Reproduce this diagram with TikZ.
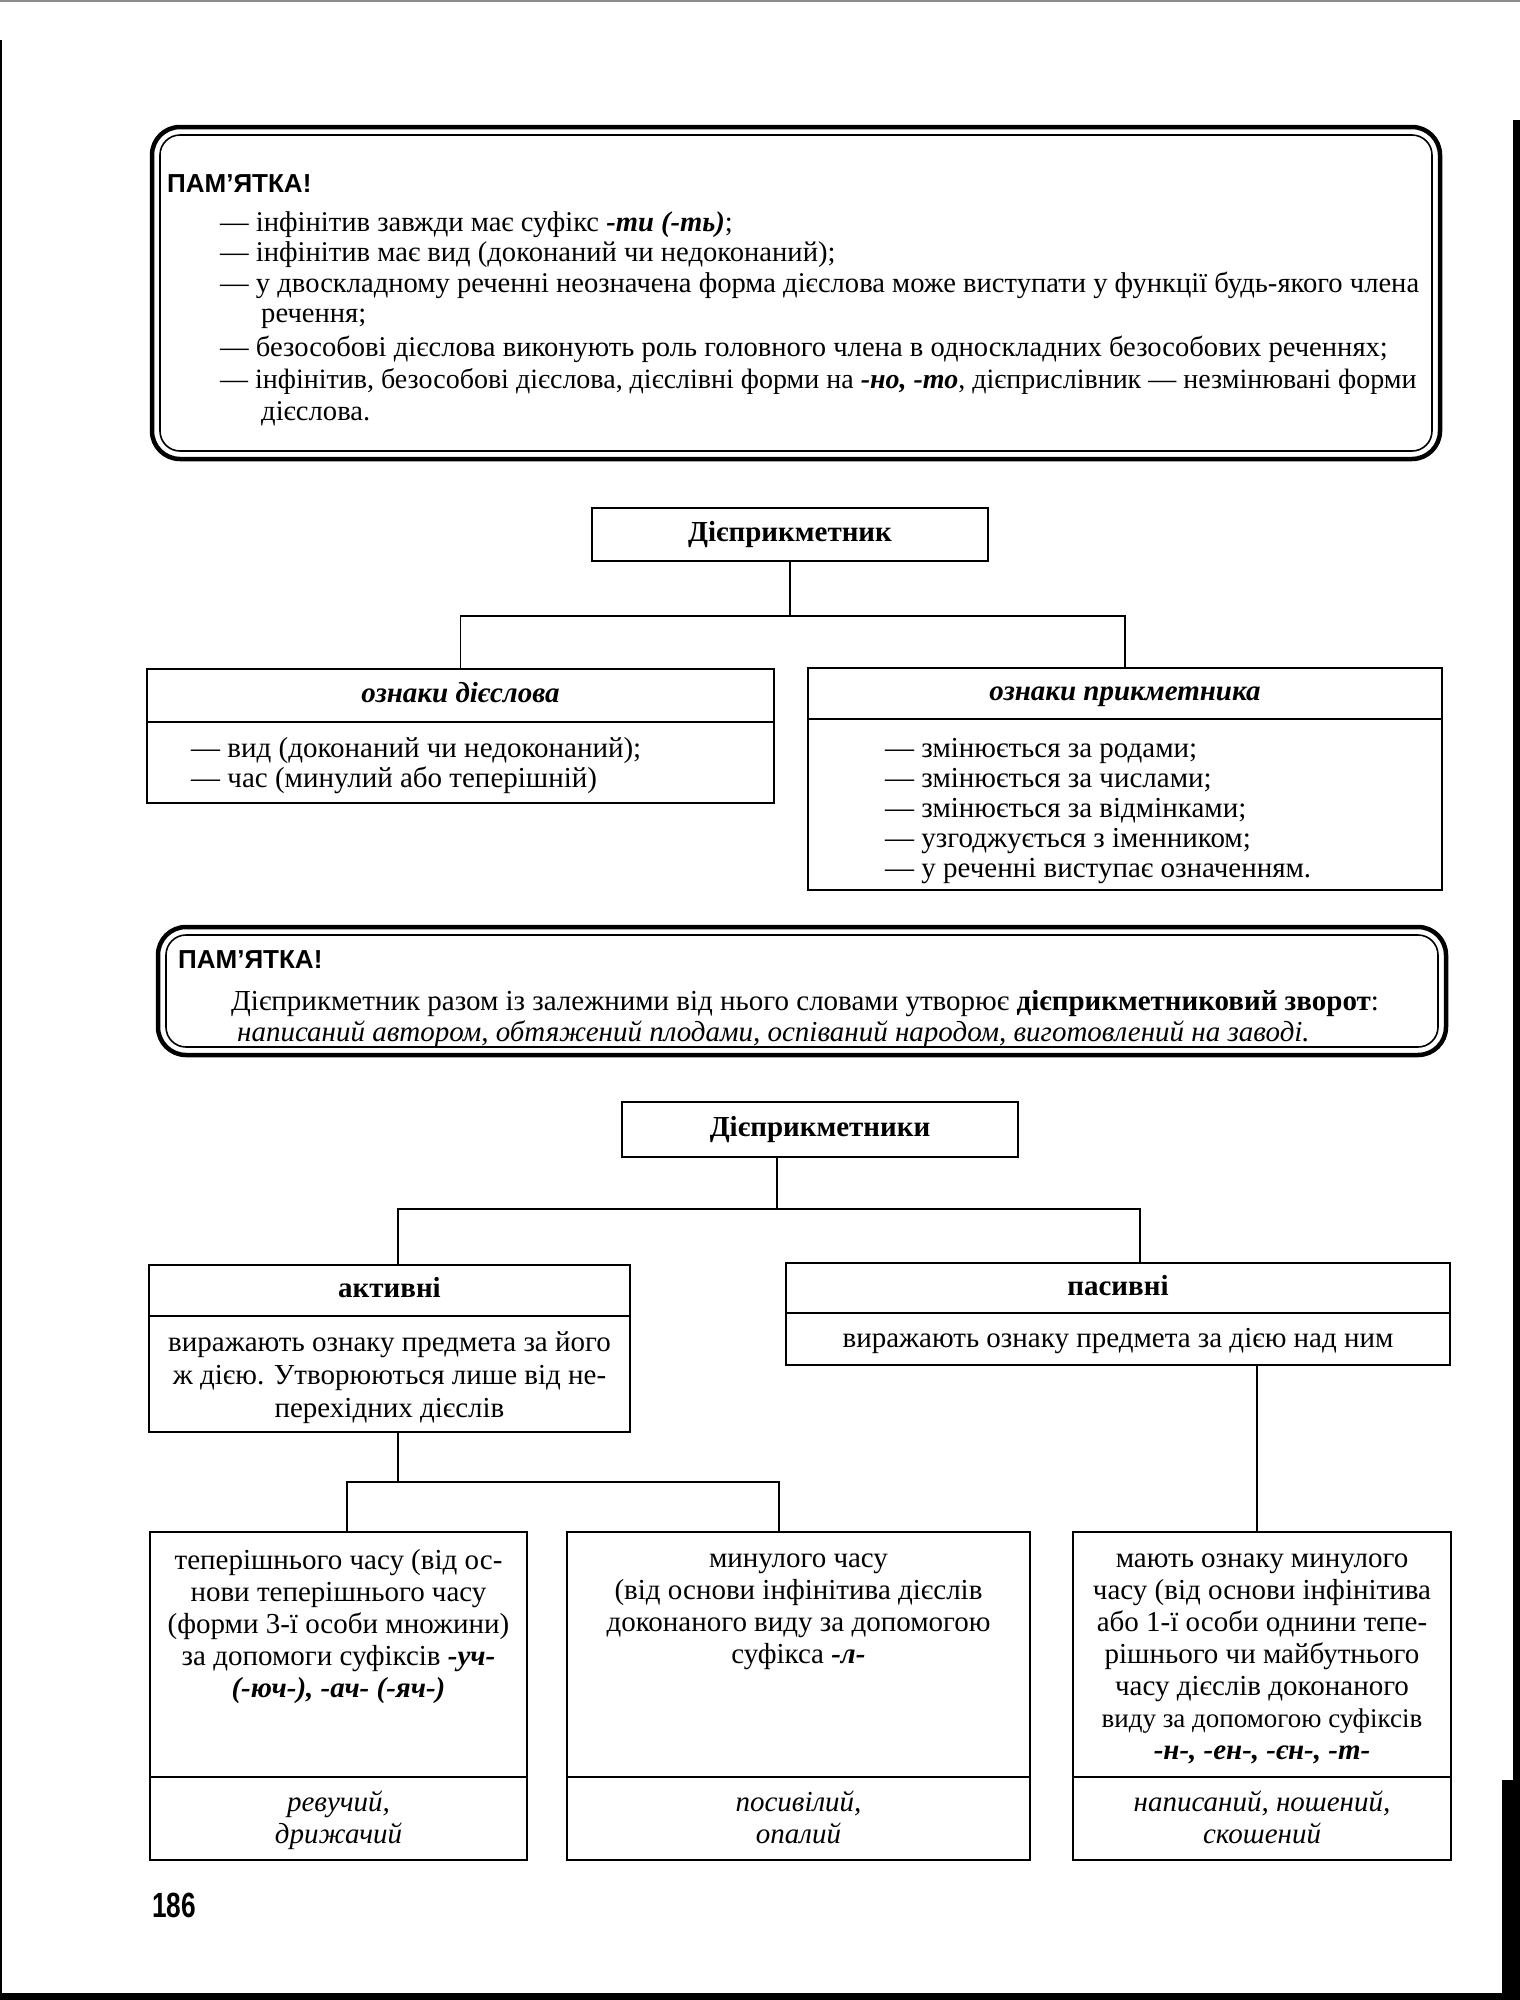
\documentclass[tikz,border=0pt]{standalone}
\usepackage{fontspec}
\setmainfont{Liberation Serif}
\newfontfamily\memofont{Liberation Sans}
\newfontfamily\pagefont[FakeStretch=0.75]{Liberation Sans}
\usetikzlibrary{positioning,calc}
\newcommand\bisuf[1]{\textbf{\textit{#1}}}
\tikzset{
  every node/.style={font=\fontsize{29}{33}\selectfont,inner sep=0pt},
  cell/.style 2 args={draw,line width=2.2pt,outer sep=0pt,minimum width=#1,minimum height=#2},
  headcell/.style 2 args={cell={#1}{#2},text height=20pt,text depth=6pt,font=\fontsize{29}{33}\selectfont\bfseries},
  headital/.style 2 args={cell={#1}{#2},text height=20pt,text depth=6pt,font=\fontsize{29}{33}\selectfont\bfseries\itshape},
  link/.style={draw,line width=1.6pt},
  memoframe/.style={draw,line width=4.5pt,rounded corners=28pt},
  memoinner/.style={draw,line width=1.6pt,rounded corners=20pt},
  memohead/.style={anchor=base west,font=\memofont\bfseries\fontsize{26}{30}\selectfont},
  memoline/.style={anchor=base west,font=\fontsize{28.6}{32}\selectfont},
  txt/.style={anchor=base west},
  ctxt/.style={anchor=base},
  exmp/.style={anchor=base,font=\fontsize{29}{33}\selectfont\itshape}}
\begin{document}
\begin{tikzpicture}[x=1pt,y=-1pt]
\useasboundingbox (0,0) rectangle (1520,2000);
% edges of the scanned page
\fill (1513,120) rectangle (1520,2000);
\fill (1502,1780) rectangle (1520,2000);
\fill (0,1993) rectangle (1520,2000);
\fill (0,40) rectangle (2,1993);
\draw[black!45,line width=1.5pt] (0,1) -- (1520,1);

% first memo
\draw[memoframe] (152,127) rectangle (1440,459);
\draw[memoinner] (160,135) rectangle (1432,451);
\node[memohead] (memo1) at (167,192) {ПАМ’ЯТКА!};
\foreach \x/\y/\linetext [count=\i] in {
  220/231/{— інфінітив завжди має суфікс \bisuf{-ти (-ть)};},
  220/261/{— інфінітив має вид (доконаний чи недоконаний);},
  220/292/{— у двоскладному реченні неозначена форма дієслова може виступати у функції будь-якого члена},
  261/322/{речення;},
  220/356/{— безособові дієслова виконують роль головного члена в односкладних безособових реченнях;},
  220/388/{\fontsize{28}{32}\selectfont — інфінітив, безособові дієслова, дієслівні форми на \bisuf{-но, -то}, дієприслівник — незмінювані форми},
  261/420/{дієслова.}}
  \node[memoline] (memo1-\i) at (\x,\y) {\linetext};

% first tree
\node[headcell={396}{53}] (dpk) at (790,534.5) {Дієприкметник};
\node[headital={627}{53}] (verbt) at (460.5,695.5) {ознаки дієслова};
\node[cell={627}{81},below=0pt of verbt] (verbb) {};
\node[headital={634}{51}] (adjt) at (1125,693.5) {ознаки прикметника};
\node[cell={634}{171},below=0pt of adjt] (adjb) {};
\draw[link] (dpk.south) -- ++(0,55) coordinate (fork1);
\draw[link] (verbt.north) |- (fork1) -| (adjt.north);
\foreach \linetext [count=\i] in {{— вид (доконаний чи недоконаний);},{— час (минулий або теперішній)}}
  \node[txt] (verb-\i) at (191,{727+30*\i}) {\linetext};
\foreach \linetext [count=\i] in {{— змінюється за родами;},{— змінюється за числами;},
  {— змінюється за відмінками;},{— узгоджується з іменником;},{— у реченні виступає означенням.}}
  \node[txt] (adj-\i) at (885,{727+30*\i}) {\linetext};

% second memo
\draw[memoframe] (158,927) rectangle (1446,1055);
\draw[memoinner] (166,935) rectangle (1438,1047);
\node[memohead] (memo2) at (178,968) {ПАМ’ЯТКА!};
\node[txt] (memo2-1) at (231,1010) {Дієприкметник разом із залежними від нього словами утворює \textbf{дієприкметниковий зворот}:};
\node[txt,font=\fontsize{29}{33}\selectfont\itshape] (memo2-2) at (237,1041) {написаний автором, обтяжений плодами, оспіваний народом, виготовлений на заводі.};

% second tree
\node[headcell={396}{55}] (dpks) at (820,1129.5) {Дієприкметники};
\node[headcell={481}{51}] (act) at (389.5,1290.5) {активні};
\node[cell={481}{116},below=0pt of act] (actb) {};
\node[headcell={664}{50}] (pas) at (1118,1288) {пасивні};
\node[cell={664}{52},below=0pt of pas] (pasb) {};
\coordinate (fork2) at (777,1209);
\draw[link] (fork2 |- dpks.south) -- (fork2);
\draw[link] ([xshift=8.5pt]act.north) |- (fork2) -| ([xshift=22pt]pas.north);
\foreach \linetext [count=\i] in {{виражають ознаку предмета за його},{ж дією. Утворюються лише від не-},{перехідних дієслів}}
  \node[ctxt] (act-\i) at (389.5,{1318+33*\i}) {\linetext};
\node[ctxt] (pas-1) at (1118,1347) {виражають ознаку предмета за дією над ним};

% lowest row
\node[cell={377}{245}] (pres) at (338.5,1654.5) {};
\node[cell={377}{83},below=0pt of pres] (presx) {};
\node[cell={463}{245}] (past) at (798.5,1654.5) {};
\node[cell={463}{83},below=0pt of past] (pastx) {};
\node[cell={378}{245}] (passv) at (1262,1654.5) {};
\node[cell={378}{83},below=0pt of passv] (passvx) {};
\draw[link] ([xshift=8.5pt]actb.south) -- ++(0,50) coordinate (fork3);
\draw[link] ([xshift=8.5pt]pres.north) |- (fork3) -| ([xshift=-19.5pt]past.north);
\coordinate (pdrop) at ([xshift=139pt]pasb.south);
\draw[link] (pdrop) -- (pdrop |- passv.north);
\foreach \linetext [count=\i] in {{теперішнього часу (від ос-},{нови теперішнього часу},
  {(форми 3-ї особи множини)},{за допомоги суфіксів \bisuf{-уч-}},{\bisuf{(-юч-), -ач- (-яч-)}}}
  \node[ctxt] (pres-\i) at (338.5,{1537+32*\i}) {\linetext};
\foreach \linetext [count=\i] in {{минулого часу},{(від основи інфінітива дієслів},
  {доконаного виду за допомогою},{суфікса \bisuf{-л-}}}
  \node[ctxt] (past-\i) at (798.5,{1535+32*\i}) {\linetext};
\foreach \linetext [count=\i] in {{мають ознаку минулого},{часу (від основи інфінітива},
  {або 1-ї особи однини тепе-},{рішнього чи майбутнього},{часу дієслів доконаного},
  {\fontsize{27}{31}\selectfont виду за допомогою суфіксів},{\bisuf{-н-, -ен-, -єн-, -т-}}}
  \node[ctxt] (passv-\i) at (1262,{1535+32*\i}) {\linetext};
\foreach \cx/\nm/\exa/\exb in {338.5/presx/{ревучий,}/{дрижачий},798.5/pastx/{посивілий,}/{опалий},
  1262/passvx/{написаний, ношений,}/{скошений}} {
  \node[exmp] (\nm-1) at (\cx,1811) {\exa};
  \node[exmp] (\nm-2) at (\cx,1843) {\exb};}

\node[anchor=base west,font=\pagefont\bfseries\fontsize{35}{35}\selectfont] (pageno) at (152,1917) {186};
\end{tikzpicture}
\end{document}
